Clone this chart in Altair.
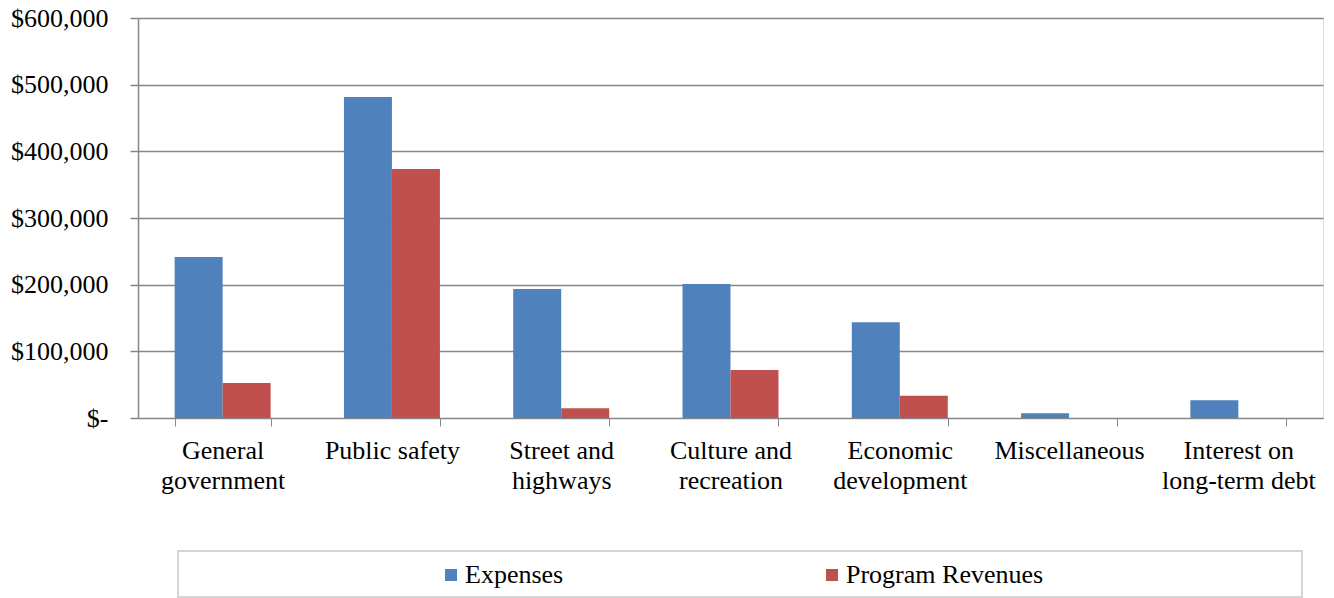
import altair as alt
import pandas as pd

categories = ["General|government", "Public safety", "Street and|highways",
              "Culture and|recreation", "Economic|development", "Miscellaneous",
              "Interest on|long-term debt"]
expenses = [241500, 481500, 193500, 201000, 143500, 7000, 26500]
revenues = [52500, 373500, 14500, 72000, 33500, 0, 0]
series = ["Expenses", "Program Revenues"]
colors = ["#4F81BD", "#C0504D"]
y_ticks = [0, 100000, 200000, 300000, 400000, 500000, 600000]

rows = []
for c, e, r in zip(categories, expenses, revenues):
    rows.append({"category": c, "series": series[0], "value": e})
    rows.append({"category": c, "series": series[1], "value": r})
df = pd.DataFrame(rows)

FONT = "Liberation Serif"
GRAY = "#868686"

bars = alt.Chart(df).mark_bar().encode(
    x=alt.X("category:N", sort=categories,
            scale=alt.Scale(paddingInner=0.433, paddingOuter=0.2165),
            axis=alt.Axis(title=None, labelAngle=0, tickBand="extent",
                          labelExpr="isValid(datum.value) ? split(datum.value, '|') : ''",
                          labelBaseline="top", labelLineHeight=30,
                          labelPadding=11, tickSize=8, domainColor=GRAY,
                          tickColor=GRAY, grid=False, labelFont=FONT,
                          labelFontSize=26, labelColor="black")),
    xOffset=alt.XOffset("series:N", sort=series),
    y=alt.Y("value:Q", scale=alt.Scale(domain=[0, 600000], nice=False),
            axis=alt.Axis(title=None, values=y_ticks, grid=True, gridColor=GRAY,
                          gridWidth=1.5, domainColor=GRAY, tickColor=GRAY,
                          domainWidth=1.5, tickWidth=1.5,
                          tickSize=8, labelPadding=22, labelFont=FONT,
                          labelFontSize=26, labelColor="black",
                          labelExpr="datum.value == 0 ? '$-' : '$' + format(datum.value, ',')")),
    color=alt.Color("series:N", sort=series,
                    scale=alt.Scale(domain=series, range=colors),
                    legend=alt.Legend(title=None, orient="none", legendX=300,
                                      legendY=544, direction="horizontal",
                                      symbolType="square", symbolSize=144,
                                      symbolStrokeWidth=0, labelOffset=1,
                                      columnPadding=255, labelFont=FONT,
                                      labelFontSize=26, labelColor="black",
                                      labelLimit=400, padding=0)),
)

box = alt.Chart(alt.Data(values=[{}])).mark_rect(
    fill="white", stroke="#c8c8c8", strokeWidth=1.5
).encode(
    x=alt.value(40), x2=alt.value(1164), y=alt.value(533), y2=alt.value(579)
)

chart = alt.layer(box, bars).properties(
    width=1185, height=400,
    autosize=alt.AutoSizeParams(type="none"),
    padding={"left": 138, "top": 18, "right": 11, "bottom": 180},
).configure_view(stroke="#b8b8b8", strokeWidth=1.5).configure(background="white")

chart.save("out.html", embed_options={"renderer": "svg", "actions": False})
